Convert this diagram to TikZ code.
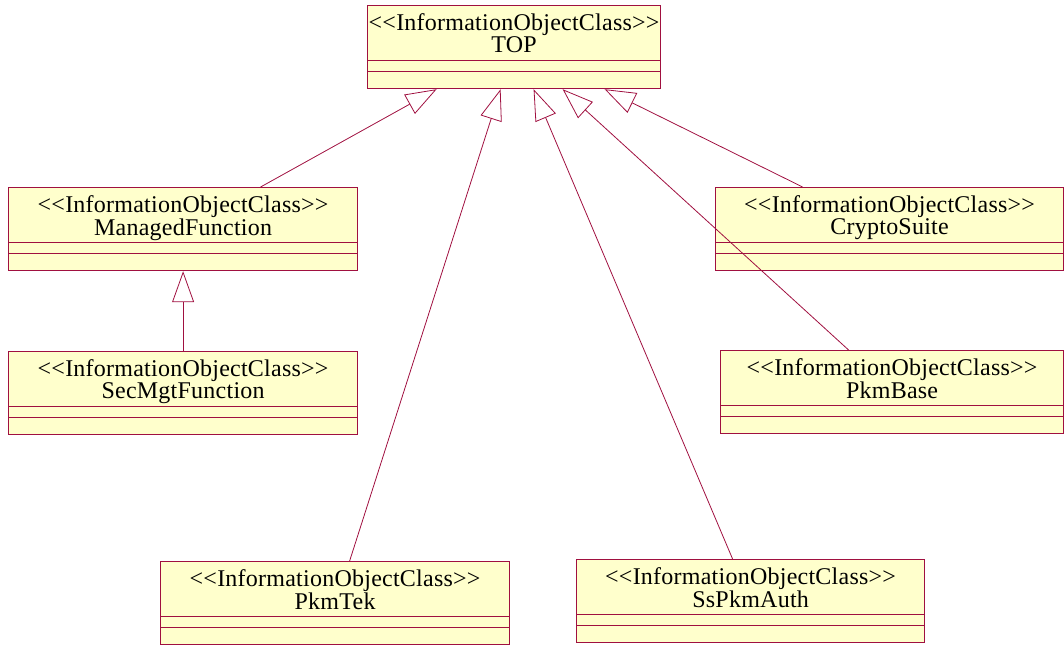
\documentclass[tikz,border=0pt]{standalone}
\usepackage{fontspec}
\setmainfont{Liberation Serif}[LetterSpace=1]
\usetikzlibrary{arrows.meta}
\definecolor{umlline}{RGB}{160,16,64}
\definecolor{umlfill}{RGB}{255,255,204}
\tikzset{
  classbox/.style={draw=umlline, fill=umlfill, line width=1.2pt, anchor=north west,
    inner sep=0pt, minimum height=83pt},
  classtext/.style={anchor=north, align=center, inner sep=0pt,
    font=\fontsize{24}{21.7}\selectfont},
  gen/.style={draw=umlline, line width=0.8pt, -{Triangle[open, length=31pt, width=22pt]}}
}
\begin{document}
\begin{tikzpicture}[x=1pt, y=-1pt]
\useasboundingbox (0,0) rectangle (1064,646);
% classes
\node[classbox, minimum width=293pt] (top) at (367,5) {};
\node[classbox, minimum width=349pt] (mf)  at (8,187) {};
\node[classbox, minimum width=349pt] (smf) at (8,351) {};
\node[classbox, minimum width=348pt] (cs)  at (715,187) {};
\node[classbox, minimum width=343pt] (pb)  at (720,350) {};
\node[classbox, minimum width=349pt] (pt)  at (160,561) {};
\node[classbox, minimum width=348pt] (spa) at (576,559) {};
% compartments and names
\foreach \c/\name in {top/TOP, mf/ManagedFunction, smf/SecMgtFunction, cs/CryptoSuite,
                      pb/PkmBase, pt/PkmTek, spa/SsPkmAuth} {
  \draw[umlline, line width=1pt] ([yshift=-55pt]\c.north west) -- ([yshift=-55pt]\c.north east)
                                 ([yshift=-66pt]\c.north west) -- ([yshift=-66pt]\c.north east);
  \node[classtext] (\c-name) at ([yshift=-8.8pt]\c.north) {<{}<InformationObjectClass>{}>\\\name};
}
% generalizations
\draw[gen] (smf.north) -- (mf.south);
\draw[gen] ([xshift=77.5pt]mf.north) -- ([xshift=-77.5pt]top.south);
\draw[gen] ([xshift=14.5pt]pt.north) -- ([xshift=-13.5pt]top.south);
\draw[gen] ([xshift=-18pt]spa.north) -- ([xshift=19.5pt]top.south);
\draw[gen] ([xshift=-43.5pt]pb.north) -- ([xshift=48.5pt]top.south);
\draw[gen] ([xshift=-87pt]cs.north) -- ([xshift=90.5pt]top.south);
\end{tikzpicture}
\end{document}
